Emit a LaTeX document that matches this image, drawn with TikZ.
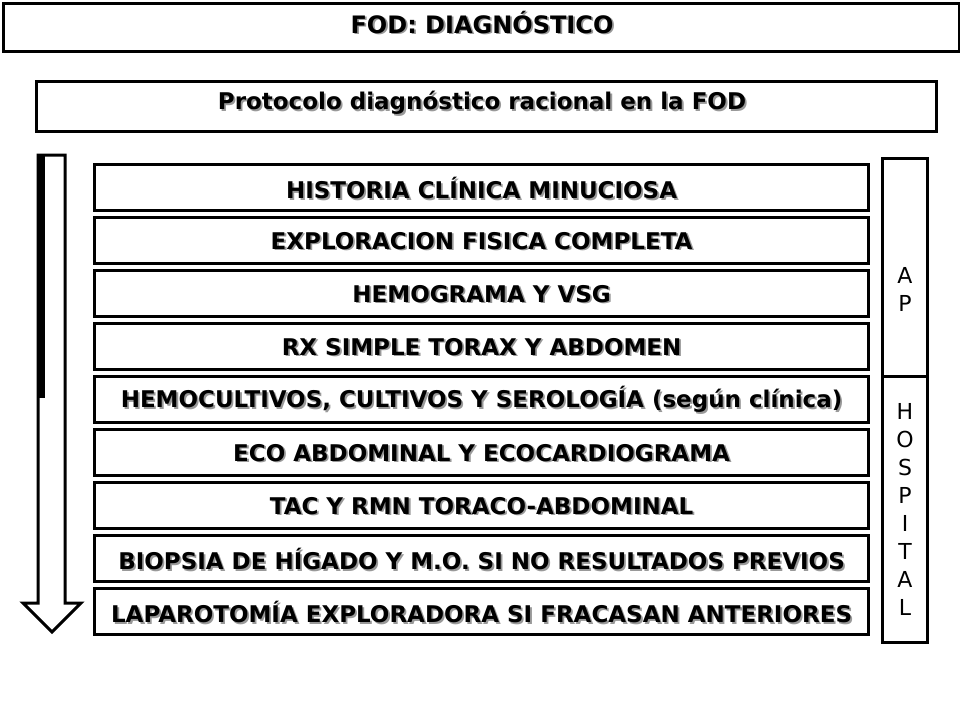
\documentclass[tikz,border=0pt]{standalone}
\usepackage{fontspec}
\usetikzlibrary{calc}
\setmainfont{DejaVu Sans}
\newcommand\shd[1]{\makebox[0pt][l]{\raisebox{-1.8pt}{\hspace{1.8pt}\textcolor{black!40}{#1}}}#1}
\begin{document}
\begin{tikzpicture}[x=1pt,y=-1pt,
  frame/.style={draw=black,line width=3pt,fill=white},
  rowbox/.style={draw=black,line width=3.2pt,fill=white,minimum width=774pt,minimum height=46pt,inner sep=0pt,anchor=north west},
  rowtext/.style={font=\bfseries\fontsize{23}{26}\selectfont,inner sep=0pt},
  sidetext/.style={font=\fontsize{22}{28}\selectfont,inner sep=0pt,align=center}]
\useasboundingbox (0,0) rectangle (960,720);
\fill[white] (0,0) rectangle (960,720);
% title
\node[frame,minimum width=956pt,minimum height=48pt,anchor=north west,inner sep=0pt] (title) at (1.5,1.5) {};
\node[font=\bfseries\fontsize{24}{28}\selectfont,inner sep=0pt] (titletxt) at (482,23) {\shd{FOD: DIAGNÓSTICO}};
% subtitle
\node[frame,minimum width=900pt,minimum height=50pt,anchor=north west,inner sep=0pt] (sub) at (35,80) {};
\node[font=\bfseries\fontsize{23}{28}\selectfont,inner sep=0pt] (subtxt) at (482,104) {\shd{Protocolo diagnóstico racional en la FOD}};
% arrow
\draw[line width=3pt,line join=miter] (38,155) -- (65,155) -- (65,603) -- (81,603) -- (52,632) -- (23,603) -- (38,603) -- cycle;
\fill[black] (36.5,153.5) rectangle (45,398);
% rows
\foreach \i/\t in {0/{HISTORIA CLÍNICA MINUCIOSA},1/{EXPLORACION FISICA COMPLETA},2/{HEMOGRAMA Y VSG},3/{RX SIMPLE TORAX Y ABDOMEN},4/{HEMOCULTIVOS, CULTIVOS Y SEROLOGÍA (según clínica)},5/{ECO ABDOMINAL Y ECOCARDIOGRAMA},6/{TAC Y RMN TORACO-ABDOMINAL},7/{BIOPSIA DE HÍGADO Y M.O. SI NO RESULTADOS PREVIOS},8/{LAPAROTOMÍA EXPLORADORA SI FRACASAN ANTERIORES}}{
  \node[rowbox] (r\i) at (93,{163+53*\i}) {};
  \node[rowtext] (t\i) at ($(r\i.center)+(0,1)$) {\shd{\t}};
}
% side column
\node[draw=black,line width=3pt,minimum width=45pt,minimum height=218pt,anchor=north west,inner sep=0pt] (ap) at (881,157) {};
\node[draw=black,line width=3pt,minimum width=45pt,minimum height=266pt,anchor=north west,inner sep=0pt] (hosp) at (881,375) {};
\node[sidetext] (aptxt) at ($(ap.center)+(0,22)$) {A\\P};
\node[sidetext] (hosptxt) at ($(hosp.center)+(0,0)$) {H\\O\\S\\P\\I\\T\\A\\L};
\end{tikzpicture}
\end{document}
